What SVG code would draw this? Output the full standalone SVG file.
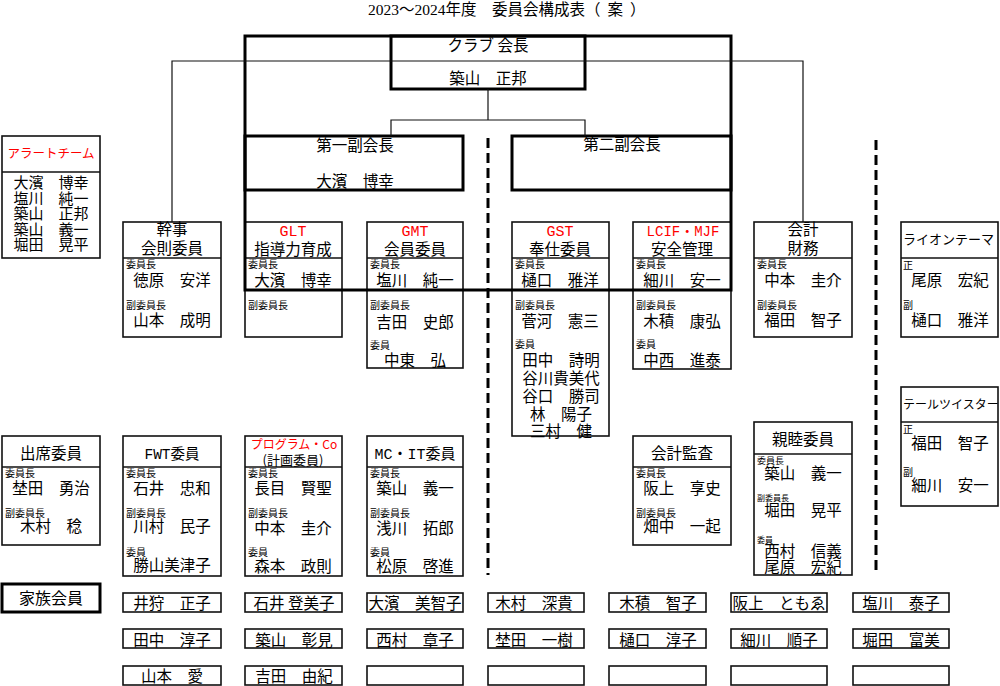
<svg xmlns="http://www.w3.org/2000/svg" width="1000" height="686" viewBox="0 0 1000 686">
<style>
text{font-family:"Noto Sans CJK JP","Noto Sans CJK SC",sans-serif;fill:#000}
.box{fill:none;stroke:#111;stroke-width:1.6}
.thk{fill:none;stroke:#000;stroke-width:3}
.ln{fill:none;stroke:#111;stroke-width:1.2}
.dash{fill:none;stroke:#000;stroke-width:3;stroke-dasharray:10 5}
.h{font-size:15.5px;text-anchor:middle}
.n{font-size:15.5px;text-anchor:middle}
.a{font-size:15px;text-anchor:middle}
.l{font-size:10px}
.red{fill:#f00}
.m{font-family:"Liberation Mono","Noto Sans CJK JP",monospace}
.title{font-family:"Liberation Serif","Noto Sans CJK JP",serif;font-size:15.5px}
</style>
<rect width="1000" height="686" fill="#fff"/>
<text class="title" x="368" y="15">2023～2024年度　委員会構成表（<tspan dx="7">案</tspan><tspan dx="7">）</tspan></text>

<g id="president">
<rect class="thk" x="391" y="36" width="194" height="53"/>
<text class="h" x="488" y="51">クラブ 会長</text>
<text class="n" x="488" y="84">築山　正邦</text>
</g>

<g id="vp1">
<rect class="thk" x="245" y="136" width="218" height="54"/>
<text class="h" x="355" y="151">第一副会長</text>
<text class="n" x="355" y="187">大濱　博幸</text>
</g>

<g id="vp2">
<rect class="thk" x="512" y="136" width="219" height="54"/>
<text class="h" x="622" y="150">第二副会長</text>
</g>

<g id="alert">
<rect class="box" x="2" y="136" width="98" height="122"/>
<line class="box" x1="2" y1="172" x2="100" y2="172"/>
<text class="red" x="51" y="158" style="font-size:12.5px;text-anchor:middle">アラートチーム</text>
<text class="a" x="51" y="188">大濱　博幸</text>
<text class="a" x="51" y="203.5">塩川　純一</text>
<text class="a" x="51" y="219">築山　正邦</text>
<text class="a" x="51" y="234.5">築山　義一</text>
<text class="a" x="51" y="250">堀田　晃平</text>
</g>

<g id="kanji">
<rect class="box" x="123" y="222" width="98" height="115"/>
<line class="box" x1="123" y1="258" x2="221" y2="258"/>
<text class="h" x="172" y="235">幹事</text>
<text class="h" x="172" y="254">会則委員</text>
<text class="l" x="126" y="268">委員長</text>
<text class="n" x="172" y="286">徳原　安洋</text>
<text class="l" x="126" y="309">副委員長</text>
<text class="n" x="172" y="326">山本　成明</text>
</g>

<g id="glt">
<rect class="box" x="245" y="222" width="97" height="115"/>
<line class="box" x1="245" y1="258" x2="342" y2="258"/>
<text class="red m" x="293" y="236" style="font-size:15px;text-anchor:middle">GLT</text>
<text class="h" x="293" y="255">指導力育成</text>
<text class="l" x="248" y="268">委員長</text>
<text class="n" x="293" y="286">大濱　博幸</text>
<text class="l" x="248" y="309">副委員長</text>
</g>

<g id="gmt">
<rect class="box" x="367" y="222" width="96" height="146"/>
<line class="box" x1="367" y1="258" x2="463" y2="258"/>
<text class="red m" x="415" y="236" style="font-size:15px;text-anchor:middle">GMT</text>
<text class="h" x="415" y="255">会員委員</text>
<text class="l" x="370" y="268">委員長</text>
<text class="n" x="415" y="286">塩川　純一</text>
<text class="l" x="370" y="309">副委員長</text>
<text class="n" x="415" y="328">吉田　史郎</text>
<text class="l" x="370" y="349">委員</text>
<text class="n" x="415" y="366">中東　弘</text>
</g>

<g id="gst">
<rect class="box" x="512" y="222" width="97" height="214"/>
<line class="box" x1="512" y1="258" x2="609" y2="258"/>
<text class="red m" x="560" y="236" style="font-size:15px;text-anchor:middle">GST</text>
<text class="h" x="560" y="255">奉仕委員</text>
<text class="l" x="515" y="268">委員長</text>
<text class="n" x="560" y="286">樋口　雅洋</text>
<text class="l" x="515" y="309">副委員長</text>
<text class="n" x="560" y="327">菅河　憲三</text>
<text class="l" x="515" y="348">委員</text>
<text class="n" x="561" y="366">田中　詩明</text>
<text class="n" x="561" y="384">谷川貴美代</text>
<text class="n" x="561" y="402">谷口　勝司</text>
<text class="n" x="561" y="420">林　陽子</text>
<text class="n" x="561" y="437">三村　健</text>
</g>

<g id="lcif">
<rect class="box" x="633" y="222" width="98" height="147"/>
<line class="box" x1="633" y1="258" x2="731" y2="258"/>
<text class="red m" x="683" y="236" style="font-size:14px;text-anchor:middle">LCIF・MJF</text>
<text class="h" x="682" y="255">安全管理</text>
<text class="l" x="636" y="268">委員長</text>
<text class="n" x="682" y="286">細川　安一</text>
<text class="l" x="636" y="309">副委員長</text>
<text class="n" x="682" y="327">木積　康弘</text>
<text class="l" x="636" y="348">委員</text>
<text class="n" x="682" y="366">中西　進泰</text>
</g>

<g id="kaikei">
<rect class="box" x="754" y="222" width="98" height="115"/>
<line class="box" x1="754" y1="258" x2="852" y2="258"/>
<text class="h" x="803" y="235">会計</text>
<text class="h" x="803" y="254">財務</text>
<text class="l" x="757" y="268">委員長</text>
<text class="n" x="803" y="286">中本　圭介</text>
<text class="l" x="757" y="309">副委員長</text>
<text class="n" x="803" y="326">福田　智子</text>
</g>

<g id="lion-theme">
<rect class="box" x="901" y="222" width="97" height="115"/>
<line class="box" x1="901" y1="258" x2="998" y2="258"/>
<text x="903" y="244" style="font-size:13px">ライオンテーマ</text>
<text class="l" x="903" y="269">正</text>
<text class="n" x="950" y="286">尾原　宏紀</text>
<text class="l" x="903" y="309">副</text>
<text class="n" x="950" y="326">樋口　雅洋</text>
</g>

<g id="tail-twister">
<rect class="box" x="901" y="387" width="97" height="119"/>
<line class="box" x1="901" y1="422" x2="998" y2="422"/>
<text x="903" y="409" style="font-size:12px">テールツイスター</text>
<text class="l" x="903" y="433">正</text>
<text class="n" x="950" y="449">福田　智子</text>
<text class="l" x="903" y="476">副</text>
<text class="n" x="950" y="491">細川　安一</text>
</g>

<g id="shusseki">
<rect class="box" x="2" y="436" width="98" height="109"/>
<line class="box" x1="2" y1="467" x2="100" y2="467"/>
<text class="h" x="51" y="459">出席委員</text>
<text class="l" x="5" y="477">委員長</text>
<text class="n" x="51" y="494">埜田　勇治</text>
<text class="l" x="5" y="517">副委員長</text>
<text class="n" x="51" y="532">木村　稔</text>
</g>

<g id="fwt">
<rect class="box" x="123" y="436" width="98" height="140"/>
<line class="box" x1="123" y1="467" x2="221" y2="467"/>
<text class="h m" x="172" y="459" style="font-size:14.5px">FWT委員</text>
<text class="l" x="126" y="477">委員長</text>
<text class="n" x="172" y="494">石井　忠和</text>
<text class="l" x="126" y="517">副委員長</text>
<text class="n" x="172" y="532">川村　民子</text>
<text class="l" x="126" y="556">委員</text>
<text class="n" x="172" y="571">勝山美津子</text>
</g>

<g id="program">
<rect class="box" x="245" y="436" width="97" height="140"/>
<line class="box" x1="245" y1="467" x2="342" y2="467"/>
<text class="red" x="294" y="449" style="font-size:12px;text-anchor:middle">プログラム・Co</text>
<text x="293" y="465" style="font-size:13px;text-anchor:middle">(計画委員)</text>
<text class="l" x="248" y="477">委員長</text>
<text class="n" x="293" y="494">長目　賢聖</text>
<text class="l" x="248" y="517">副委員長</text>
<text class="n" x="293" y="534">中本　圭介</text>
<text class="l" x="248" y="556">委員</text>
<text class="n" x="293" y="572">森本　政則</text>
</g>

<g id="mc-it">
<rect class="box" x="367" y="436" width="96" height="140"/>
<line class="box" x1="367" y1="467" x2="463" y2="467"/>
<text class="h m" x="415" y="459" style="font-size:15px">MC・IT委員</text>
<text class="l" x="370" y="477">委員長</text>
<text class="n" x="415" y="494">築山　義一</text>
<text class="l" x="370" y="517">副委員長</text>
<text class="n" x="415" y="534">浅川　拓郎</text>
<text class="l" x="370" y="556">委員</text>
<text class="n" x="415" y="572">松原　啓進</text>
</g>

<g id="kansa">
<rect class="box" x="633" y="436" width="98" height="109"/>
<line class="box" x1="633" y1="467" x2="731" y2="467"/>
<text class="h" x="682" y="459">会計監査</text>
<text class="l" x="636" y="477">委員長</text>
<text class="n" x="682" y="494">阪上　享史</text>
<text class="l" x="636" y="517">副委員長</text>
<text class="n" x="682" y="532">畑中　一起</text>
</g>

<g id="shinboku">
<rect class="box" x="754" y="422" width="98" height="153"/>
<line class="box" x1="754" y1="454" x2="852" y2="454"/>
<text class="h" x="803" y="445">親睦委員</text>
<text x="757" y="464" style="font-size:9px">委員長</text>
<text class="n" x="803" y="479">築山　義一</text>
<text x="757" y="501" style="font-size:8px">副委員長</text>
<text class="n" x="803" y="516">堀田　晃平</text>
<text x="757" y="543" style="font-size:8px">委員</text>
<text class="n" x="803" y="557">西村　信義</text>
<text class="n" x="803" y="573">尾原　宏紀</text>
</g>

<g id="family-label">
<rect class="thk" x="2" y="584" width="98" height="28"/>
<text class="n" x="51" y="604" style="font-size:16px">家族会員</text>
</g>

<g id="family-col1">
<rect class="box" x="123" y="593" width="98" height="19"/><text class="n" x="172" y="609">井狩　正子</text>
<rect class="box" x="123" y="629" width="98" height="19"/><text class="n" x="172" y="646">田中　淳子</text>
<rect class="box" x="123" y="666" width="98" height="19"/><text class="n" x="172" y="682">山本　愛</text>
</g>
<g id="family-col2">
<rect class="box" x="245" y="593" width="97" height="19"/><text class="n" x="294" y="609">石井 登美子</text>
<rect class="box" x="245" y="629" width="97" height="19"/><text class="n" x="294" y="646">築山　彰見</text>
<rect class="box" x="245" y="666" width="97" height="19"/><text class="n" x="294" y="682">吉田　由紀</text>
</g>
<g id="family-col3">
<rect class="box" x="367" y="593" width="96" height="19"/><text class="n" x="415" y="609">大濱　美智子</text>
<rect class="box" x="367" y="629" width="96" height="19"/><text class="n" x="415" y="646">西村　章子</text>
<rect class="box" x="367" y="666" width="96" height="19"/>
</g>
<g id="family-col4">
<rect class="box" x="488" y="593" width="96" height="19"/><text class="n" x="534" y="609">木村　深貴</text>
<rect class="box" x="488" y="629" width="96" height="19"/><text class="n" x="534" y="646">埜田　一樹</text>
<rect class="box" x="488" y="666" width="96" height="19"/>
</g>
<g id="family-col5">
<rect class="box" x="609" y="593" width="97" height="19"/><text class="n" x="658" y="609">木積　智子</text>
<rect class="box" x="609" y="629" width="97" height="19"/><text class="n" x="658" y="646">樋口　淳子</text>
<rect class="box" x="609" y="666" width="97" height="19"/>
</g>
<g id="family-col6">
<rect class="box" x="731" y="593" width="96" height="19"/><text class="n" x="779" y="609">阪上　ともゑ</text>
<rect class="box" x="731" y="629" width="96" height="19"/><text class="n" x="779" y="646">細川　順子</text>
<rect class="box" x="731" y="666" width="96" height="19"/>
</g>
<g id="family-col7">
<rect class="box" x="853" y="593" width="96" height="19"/><text class="n" x="901" y="609">塩川　泰子</text>
<rect class="box" x="853" y="629" width="96" height="19"/><text class="n" x="901" y="646">堀田　富美</text>
<rect class="box" x="853" y="666" width="96" height="19"/>
</g>

<g id="connectors">
<rect class="thk" x="245" y="36" width="486" height="254"/>
<polyline class="ln" points="172,222 172,61 803,61 803,222"/>
<line class="ln" x1="488" y1="89" x2="488" y2="120"/>
<polyline class="ln" points="391,136 391,120 585,120 585,136"/>
<line class="dash" x1="488" y1="138" x2="488" y2="575"/>
<line class="dash" x1="876" y1="140" x2="876" y2="575"/>
</g>
</svg>
